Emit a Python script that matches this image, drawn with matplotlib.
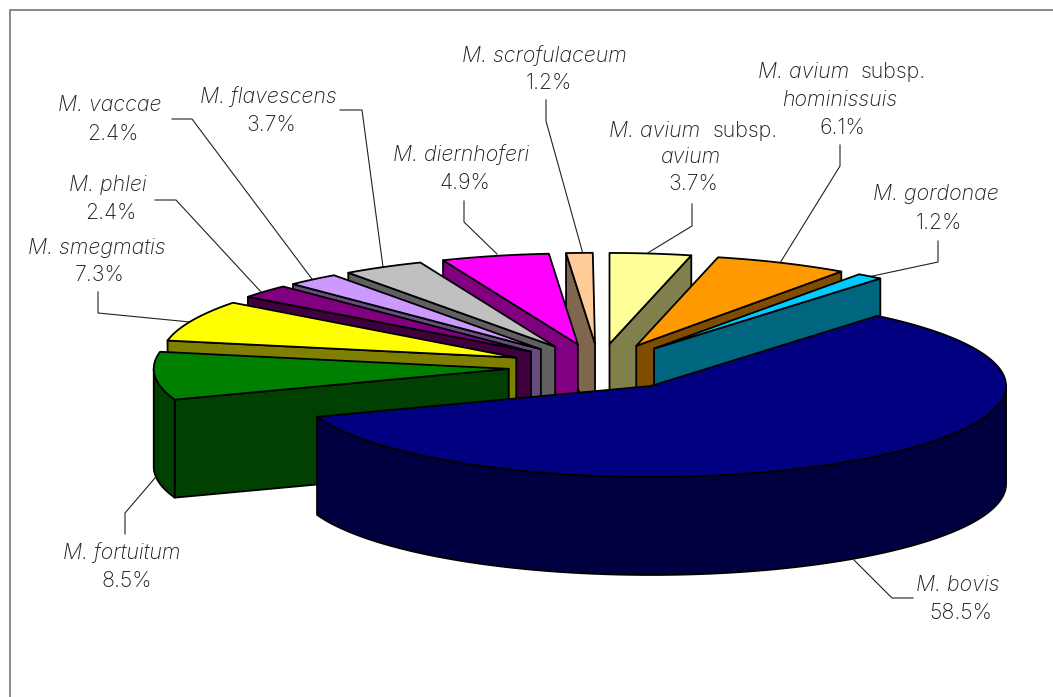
import numpy as np
import matplotlib
matplotlib.use('Agg')
import matplotlib.pyplot as plt

plt.rcParams['font.family'] = ['Inter', 'DejaVu Sans']

# clockwise from 12 o'clock
names = ['M. avium subsp. avium', 'M. avium subsp. hominissuis', 'M. gordonae', 'M. bovis',
         'M. fortuitum', 'M. smegmatis', 'M. phlei', 'M. vaccae', 'M. flavescens',
         'M. diernhoferi', 'M. scrofulaceum']
values = [3.7, 6.1, 1.2, 58.5, 8.5, 7.3, 2.4, 2.4, 3.7, 4.9, 1.2]
colors = ['#FFFF99', '#FF9900', '#00CCFF', '#000080', '#008000', '#FFFF00',
          '#800080', '#CC99FF', '#C0C0C0', '#FF00FF', '#FFCC99']

# pie geometry in pixels
cx, cy = 599, 367
rx, ry = 355, 91
depth = 98
explode = 0.255

fig = plt.figure(figsize=(10.53, 6.97), dpi=100)
ax = fig.add_axes([0, 0, 1, 1])
ax.set_xlim(0, 1053)
ax.set_ylim(697, 0)
ax.axis('off')

# frame, only left and top are inside the picture
ax.plot([10, 10, 1053], [697, 10, 10], color='#808080', lw=1.3, solid_joinstyle='miter')


def darker(c):
    return tuple(v * 0.5 for v in matplotlib.colors.to_rgb(c))


def arc_pts(ox, oy, a1, a2, dz=0):
    t = np.radians(np.linspace(a1, a2, 120))
    return ox + rx * np.cos(t), oy - ry * np.sin(t) + dz


slices = []
start = 90.0
for v, c in zip(values, colors):
    a1 = start
    a2 = start - v * 3.6
    start = a2
    mid = np.radians((a1 + a2) / 2)
    ox = cx + explode * rx * np.cos(mid)
    oy = cy - explode * ry * np.sin(mid)
    slices.append((np.sin(mid), a1, a2, ox, oy, c))

# back slices first, the big front one last
slices.sort(key=lambda s: -s[0])
z = 2
line = dict(edgecolor='black', linewidth=1.3, joinstyle='round')
for _, a1, a2, ox, oy, c in slices:
    dark = darker(c)
    # radial walls, only the ones facing the viewer
    for a, sign in ((a1, -1), (a2, 1)):
        if sign * np.cos(np.radians(a)) > 1e-6:
            ex = ox + rx * np.cos(np.radians(a))
            ey = oy - ry * np.sin(np.radians(a))
            ax.fill([ox, ex, ex, ox], [oy, ey, ey + depth, oy + depth], facecolor=dark, zorder=z, **line)
    # rim, only the part facing the viewer
    b1, b2 = max(a2, -180), min(a1, 0)
    if b2 > b1:
        x1, y1 = arc_pts(ox, oy, b1, b2)
        x2, y2 = arc_pts(ox, oy, b2, b1, depth)
        ax.fill(np.r_[x1, x2], np.r_[y1, y2], facecolor=dark, zorder=z, **line)
    # top
    xa, ya = arc_pts(ox, oy, a1, a2)
    ax.fill(np.r_[ox, xa], np.r_[oy, ya], facecolor=c, zorder=z, **line)
    z += 1

# label layout: text lines (x, y, text, style, ha)
txt = '#1a1a1a'
fs = 15.4
labels = [
    (544, 56, 'M. scrofulaceum', 'italic', 'center'), (549, 83, '1.2%', 'normal', 'center'),
    (700, 131, 'M. avium', 'italic', 'right'), (713, 131, 'subsp.', 'normal', 'left'),
    (690, 157, 'avium', 'italic', 'center'), (693, 184, '3.7%', 'normal', 'center'),
    (849, 72, 'M. avium', 'italic', 'right'), (861, 72, 'subsp.', 'normal', 'left'),
    (840, 100, 'hominissuis', 'italic', 'center'), (842, 128, '6.1%', 'normal', 'center'),
    (936, 194, 'M. gordonae', 'italic', 'center'), (939, 223, '1.2%', 'normal', 'center'),
    (958, 585, 'M. bovis', 'italic', 'center'), (961, 613, '58.5%', 'normal', 'center'),
    (122, 553, 'M. fortuitum', 'italic', 'center'), (127, 581, '8.5%', 'normal', 'center'),
    (97, 248, 'M. smegmatis', 'italic', 'center'), (100, 275, '7.3%', 'normal', 'center'),
    (108, 185, 'M. phlei', 'italic', 'center'), (111, 213, '2.4%', 'normal', 'center'),
    (110, 105, 'M. vaccae', 'italic', 'center'), (113, 134, '2.4%', 'normal', 'center'),
    (268, 97, 'M. flavescens', 'italic', 'center'), (271, 125, '3.7%', 'normal', 'center'),
    (461, 155, 'M. diernhoferi', 'italic', 'center'), (465, 183, '4.9%', 'normal', 'center'),
]
for x, y, s, st, ha in labels:
    ax.text(x, y, s, fontsize=fs, style=st, ha=ha, va='center', color=txt, zorder=30, fontweight='light')

leaders = [
    ([340, 362, 383], [110, 110, 267]),
    ([464, 464, 497], [201, 222, 254]),
    ([546, 546, 583], [100, 121, 254]),
    ([692, 692, 646], [204, 226, 254]),
    ([840, 840, 780], [145, 166, 263]),
    ([938, 938, 868], [241, 262, 277]),
    ([172, 192, 312], [119, 119, 279]),
    ([155, 176, 262], [200, 200, 293]),
    ([98, 98, 190], [292, 313, 322]),
    ([125, 125, 155], [534, 513, 478]),
    ([913, 892, 854], [598, 598, 560]),
]
for lx, ly in leaders:
    ax.plot(lx, ly, color='#222222', lw=0.8, zorder=1)

fig.savefig('out.png', dpi=100)
